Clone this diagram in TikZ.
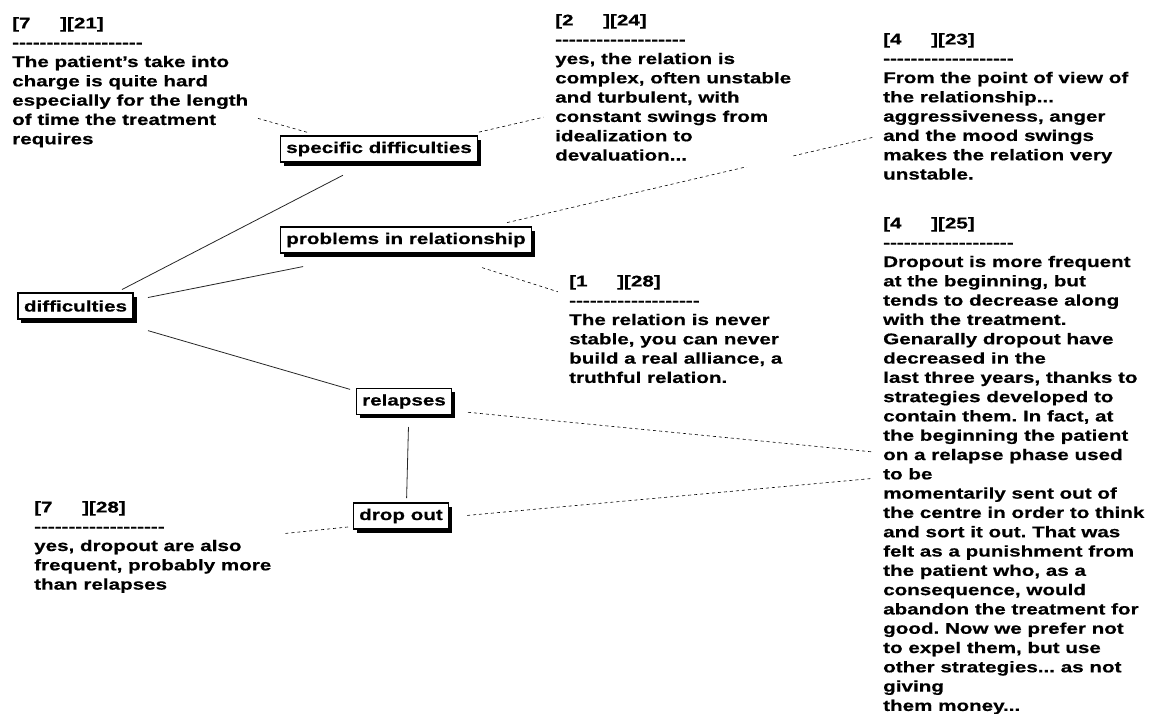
\documentclass[tikz,border=0pt]{standalone}
\usepackage{fontspec}
\setmainfont{Liberation Sans}[FakeStretch=1.33,BoldFeatures={FakeBold=0.5}]
\usetikzlibrary{shadows,backgrounds}
\frenchspacing

% header of a quotation and its rule of hyphens
\newcommand{\quotehead}[2]{\makebox[48pt][l]{[#1}][#2]}
\newcommand{\dashrow}{\foreach \k in {1,...,19}{-\kern0pt}}

\begin{document}
\begin{tikzpicture}[
	x=1pt,
	y=-1pt,
	every node/.style={font=\fontsize{15.5}{19.3}\selectfont\bfseries},
	concept/.style={
		draw=black,
		line width=1.1pt,
		fill=white,
		inner xsep=6pt,
		inner ysep=0pt,
		minimum height=26pt,
		drop shadow={shadow xshift=3.5pt,shadow yshift=-3.5pt,opacity=1,fill=black}
	},
	note/.style={anchor=north west,align=left,fill=white,inner xsep=0pt,inner ysep=6pt},
	link/.style={draw=black!85,line width=0.8pt},
	dashlink/.style={draw=black,line width=0.6pt,dash pattern=on 3pt off 3pt}
	]
	
	\useasboundingbox (0,0) rectangle (1151,713);
	
	% concepts
	\node[concept] (diff) at (75.5,306) {difficulties};
	\node[concept] (spec) at (379,149) {specific difficulties};
	\node[concept] (prob) at (406,240) {problems in relationship};
	\node[concept] (rel) at (404,401.5) {relapses};
	\node[concept] (drop) at (401,516) {drop out};
	
	\foreach \n in {diff,spec,prob,rel,drop}
		\coordinate (\n-c) at ([xshift=5pt,yshift=-5pt]\n.center);
	
	% quotations
	\node[note] (noteA) at (12,11) {\quotehead{7}{21}\\ \dashrow\\
		The patient’s take into\\ charge is quite hard\\
		especially for the length\\ of time the treatment\\ requires};
	
	\node[note] (noteB) at (555,8) {\quotehead{2}{24}\\ \dashrow\\
		yes, the relation is\\ complex, often unstable\\
		and turbulent, with\\ constant swings from\\
		idealization to\\ devaluation...};
	
	\node[note] (noteC) at (883,27) {\quotehead{4}{23}\\ \dashrow\\
		From the point of view of\\ the relationship...\\
		aggressiveness, anger\\ and the mood swings\\
		makes the relation very\\ unstable.};
	
	\node[note] (noteD) at (883,211) {\quotehead{4}{25}\\ \dashrow\\
		Dropout is more frequent\\ at the beginning, but\\
		tends to decrease along\\ with the treatment.\\
		Genarally dropout have\\ decreased in the\\
		last three years, thanks to\\ strategies developed to\\
		contain them. In fact, at\\ the beginning the patient\\
		on a relapse phase used\\ to be\\
		momentarily sent out of\\ the centre in order to think\\
		and sort it out. That was\\ felt as a punishment from\\
		the patient who, as a\\ consequence, would\\
		abandon the treatment for\\ good. Now we prefer not\\
		to expel them, but use\\ other strategies... as not\\
		giving\\ them money...};
	
	\node[note] (noteE) at (569,269) {\quotehead{1}{28}\\ \dashrow\\
		The relation is never\\ stable, you can never\\
		build a real alliance, a\\ truthful relation.};
	
	\node[note] (noteF) at (34,495) {\quotehead{7}{28}\\ \dashrow\\
		yes, dropout are also\\ frequent, probably more\\ than relapses};
	
	% links
	\begin{scope}[on background layer]
		\draw[link,shorten <=46.7pt,shorten >=46.2pt] (diff-c) -- (spec-c);
		\draw[link,shorten <=68.8pt,shorten >=110pt] (diff-c) -- (prob-c);
		\draw[link,shorten <=70.3pt,shorten >=61.4pt] (diff-c) -- (rel-c);
		\draw[link,shorten <=20.5pt,shorten >=23pt] (rel-c) -- (drop-c);
		
		\draw[dashlink,shorten <=80pt,shorten >=10pt] (spec-c) -- (noteA);
		\draw[dashlink,shorten <=97.4pt,shorten >=12pt] (spec-c) -- (noteB);
		\draw[dashlink,shorten <=98.6pt,shorten >=10pt] (prob-c) -- (noteC);
		\draw[dashlink,shorten <=74.6pt,shorten >=11.7pt] (prob-c) -- (noteE);
		\draw[dashlink,shorten <=59.3pt,shorten >=11pt] (rel-c) -- (noteD);
		\draw[dashlink,shorten <=61.3pt,shorten >=11pt] (drop-c) -- (noteD);
		\draw[dashlink,shorten <=58.3pt,shorten >=11pt] (drop-c) -- (noteF);
	\end{scope}
	
\end{tikzpicture}
\end{document}
